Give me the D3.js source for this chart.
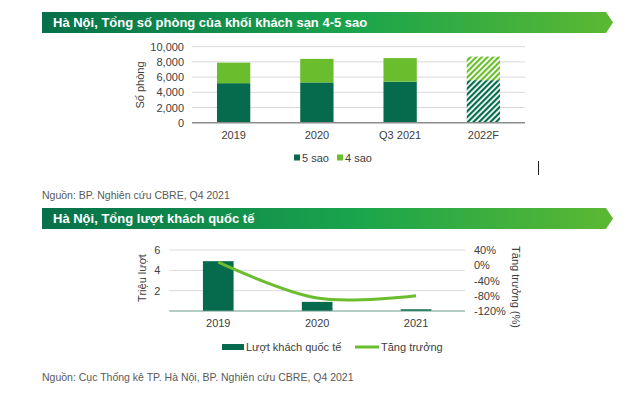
<!DOCTYPE html>
<html><head><meta charset="utf-8">
<script src="https://cdn.jsdelivr.net/npm/d3@7/dist/d3.min.js"></script>
<style>body{margin:0;background:#fff}svg{display:block;font-family:"Liberation Sans",Arial,sans-serif}</style>
</head><body>
<script>
// ---- data ----
const roomCategories = ["2019", "2020", "Q3 2021", "2022F"];
const rooms5 = [5200, 5300, 5400, 5600];
const rooms4 = [2700, 3100, 3100, 3100];
const roomTicks = [0, 2000, 4000, 6000, 8000, 10000];
const visitorYears = ["2019", "2020", "2021"];
const visitors = [4.9, 0.9, 0.17];
const growth = [8, -86, -80];
const visitorTicks = [2, 4, 6];
const growthTicks = [-120, -80, -40, 0, 40];

const W = 640, H = 403;
const dark = "#066b4c", light = "#6abd2d", textC = "#404040";
const svg = d3.select("body").append("svg").attr("width", W).attr("height", H);
const defs = svg.append("defs");
const grad = defs.append("linearGradient").attr("id", "bannerGrad");
grad.append("stop").attr("offset", "0%").attr("stop-color", "#06704a");
grad.append("stop").attr("offset", "55%").attr("stop-color", "#1aa54c");
grad.append("stop").attr("offset", "100%").attr("stop-color", "#5cb832");
function pattern(id, color) {
  const p = defs.append("pattern").attr("id", id).attr("patternUnits", "userSpaceOnUse")
    .attr("width", 4).attr("height", 4).attr("patternTransform", "rotate(45)");
  p.append("rect").attr("width", 4).attr("height", 4).attr("fill", "#fff");
  p.append("rect").attr("width", 2.2).attr("height", 4).attr("fill", color);
}
pattern("pDark", dark); pattern("pLight", light);

function banner(y0, y1, text) {
  const x0 = 42, x1 = 606, tip = 613, ym = (y0 + y1) / 2;
  svg.append("path").attr("d", `M${x0},${y0}L${x1},${y0}L${tip},${ym}L${x1},${y1}L${x0},${y1}Z`).attr("fill", "url(#bannerGrad)");
  svg.append("text").attr("x", x0 + 11).attr("y", ym + 4.5).attr("fill", "#fff")
    .attr("font-size", 13).attr("font-weight", "bold").text(text);
}
banner(12, 33, "Hà Nội, Tổng số phòng của khối khách sạn 4-5 sao");
banner(208, 229, "Hà Nội, Tổng lượt khách quốc tế");

// ---- top chart ----
const x1 = d3.scaleBand().domain(roomCategories).range([192, 525]).paddingInner(0.6).paddingOuter(0.3);
const y1 = d3.scaleLinear().domain([0, 10000]).range([122.7, 46.7]);
const g1 = svg.append("g");
g1.selectAll(".grid").data(roomTicks.slice(1)).join("line")
  .attr("x1", 192).attr("x2", 525).attr("y1", d => y1(d)).attr("y2", d => y1(d))
  .attr("stroke", "#d9d9d9").attr("stroke-width", 1);
const yAx1 = g1.append("g").attr("transform", "translate(192,0)")
  .call(d3.axisLeft(y1).tickValues(roomTicks).tickFormat(d3.format(",")).tickSize(0).tickPadding(8));
yAx1.select(".domain").remove();
yAx1.selectAll("text").attr("font-size", 11).attr("fill", textC).attr("font-family", "Liberation Sans, Arial");
roomCategories.forEach((c, i) => {
  const f = c === "2022F";
  g1.append("rect").attr("x", x1(c)).attr("width", x1.bandwidth())
    .attr("y", y1(rooms5[i])).attr("height", y1(0) - y1(rooms5[i])).attr("fill", f ? "url(#pDark)" : dark);
  g1.append("rect").attr("x", x1(c)).attr("width", x1.bandwidth())
    .attr("y", y1(rooms5[i] + rooms4[i])).attr("height", y1(rooms5[i]) - y1(rooms5[i] + rooms4[i])).attr("fill", f ? "url(#pLight)" : light);
});
const xAx1 = g1.append("g").attr("transform", `translate(0,${y1(0)})`)
  .call(d3.axisBottom(x1).tickSize(0).tickPadding(9));
xAx1.select(".domain").attr("stroke", "#8c8c8c").attr("stroke-width", 1.5).attr("d", "M192,0H525");
xAx1.selectAll("text").attr("font-size", 11).attr("fill", textC).attr("font-family", "Liberation Sans, Arial");
svg.append("text").attr("transform", "translate(144,85) rotate(-90)").attr("text-anchor", "middle")
  .attr("font-size", 11).attr("fill", textC).text("Số phòng");
// legend top
[["5 sao", dark, 294], ["4 sao", light, 337]].forEach(([t, c, x]) => {
  svg.append("rect").attr("x", x).attr("y", 154.5).attr("width", 6).attr("height", 6).attr("fill", c);
  svg.append("text").attr("x", x + 8).attr("y", 161.5).attr("font-size", 11).attr("fill", textC).text(t);
});
svg.append("line").attr("x1", 538.5).attr("x2", 538.5).attr("y1", 161).attr("y2", 175).attr("stroke", "#222").attr("stroke-width", 1);
svg.append("text").attr("x", 42).attr("y", 199).attr("font-size", 10.5).attr("fill", "#595959").text("Nguồn: BP. Nghiên cứu CBRE, Q4 2021");

// ---- bottom chart ----
const x2 = d3.scaleBand().domain(visitorYears).range([169.3, 465]).paddingInner(0.69).paddingOuter(0.34);
const y2 = d3.scaleLinear().domain([0, 6]).range([311, 250]);
const y2r = d3.scaleLinear().domain([-120, 40]).range([311, 250]);
const g2 = svg.append("g");
g2.selectAll(".grid").data(visitorTicks).join("line")
  .attr("x1", 169.3).attr("x2", 465).attr("y1", d => y2(d)).attr("y2", d => y2(d))
  .attr("stroke", "#d9d9d9").attr("stroke-width", 1);
const yAx2 = g2.append("g").attr("transform", "translate(169.3,0)")
  .call(d3.axisLeft(y2).tickValues(visitorTicks).tickFormat(d3.format("d")).tickSize(0).tickPadding(9));
yAx2.select(".domain").remove();
yAx2.selectAll("text").attr("font-size", 11).attr("fill", textC).attr("font-family", "Liberation Sans, Arial");
const yAx2r = g2.append("g").attr("transform", "translate(465,0)")
  .call(d3.axisRight(y2r).tickValues(growthTicks).tickFormat(d => d + "%").tickSize(0).tickPadding(9));
yAx2r.select(".domain").remove();
yAx2r.selectAll("text").attr("font-size", 11).attr("fill", textC).attr("font-family", "Liberation Sans, Arial");
g2.selectAll(".bar").data(visitorYears).join("rect")
  .attr("x", d => x2(d)).attr("width", x2.bandwidth())
  .attr("y", (d, i) => y2(visitors[i])).attr("height", (d, i) => y2(0) - y2(visitors[i])).attr("fill", dark);
const xAx2 = g2.append("g").attr("transform", `translate(0,${y2(0)})`)
  .call(d3.axisBottom(x2).tickSize(0).tickPadding(8));
xAx2.select(".domain").attr("stroke", "#6b9b8a").attr("stroke-width", 1).attr("d", "M169.3,0H465");
xAx2.selectAll("text").attr("font-size", 11).attr("fill", textC).attr("font-family", "Liberation Sans, Arial");
const line = d3.line().x((d, i) => x2(visitorYears[i]) + x2.bandwidth() / 2).y(d => y2r(d)).curve(d3.curveCatmullRom.alpha(0.5));
g2.append("path").attr("d", line(growth)).attr("fill", "none").attr("stroke", light).attr("stroke-width", 3);
svg.append("text").attr("transform", "translate(146,278) rotate(-90)").attr("text-anchor", "middle")
  .attr("font-size", 11).attr("fill", textC).text("Triệu lượt");
svg.append("text").attr("transform", "translate(512,287) rotate(90)").attr("text-anchor", "middle")
  .attr("font-size", 11).attr("fill", textC).text("Tăng trưởng (%)");
// legend bottom
svg.append("rect").attr("x", 222).attr("y", 344).attr("width", 22).attr("height", 6).attr("fill", dark);
svg.append("text").attr("x", 246).attr("y", 351).attr("font-size", 11).attr("fill", textC).text("Lượt khách quốc tế");
svg.append("line").attr("x1", 355).attr("x2", 379).attr("y1", 347).attr("y2", 347).attr("stroke", light).attr("stroke-width", 3);
svg.append("text").attr("x", 381).attr("y", 351).attr("font-size", 11).attr("fill", textC).text("Tăng trưởng");
svg.append("text").attr("x", 42).attr("y", 381).attr("font-size", 10.5).attr("fill", "#595959").text("Nguồn: Cục Thống kê TP. Hà Nội, BP. Nghiên cứu CBRE, Q4 2021");
</script>
</body></html>
